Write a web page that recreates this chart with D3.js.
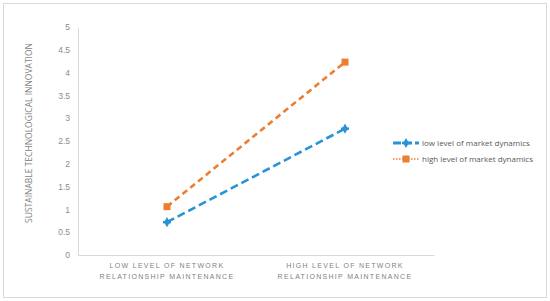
<!DOCTYPE html>
<html>
<head>
<meta charset="utf-8">
<script src="https://cdn.jsdelivr.net/npm/d3@7"></script>
<style>
  body { margin: 0; background: #fff; }
  svg { display: block; font-family: "Open Sans", "Noto Sans", sans-serif; }
</style>
</head>
<body>
<div id="chart"></div>
<script>
const categories = ['LOW LEVEL OF NETWORK|RELATIONSHIP MAINTENANCE', 'HIGH LEVEL OF NETWORK|RELATIONSHIP MAINTENANCE'];
const lowDynamics = [0.72, 2.77];
const highDynamics = [1.06, 4.23];
const yTicks = [0, 0.5, 1, 1.5, 2, 2.5, 3, 3.5, 4, 4.5, 5];
const seriesNames = ['low level of market dynamics', 'high level of market dynamics'];

const width = 550;
const height = 301;
const margin = { top: 27, right: 116, bottom: 46, left: 78 };

const svg = d3.select('#chart').append('svg')
    .attr('width', width)
    .attr('height', height);

// outer frame
svg.append('rect')
    .attr('x', 3.5).attr('y', 3.5)
    .attr('width', width - 7).attr('height', height - 7)
    .attr('fill', '#fff').attr('stroke', '#d9d9d9');

const xScale = d3.scaleBand()
    .domain(categories)
    .range([margin.left, width - margin.right]);

const yScale = d3.scaleLinear()
    .domain([0, 5])
    .range([height - margin.bottom, margin.top]);

// y axis
const yAxis = svg.append('g')
    .attr('transform', `translate(${margin.left},0)`)
    .call(d3.axisLeft(yScale).tickValues(yTicks).tickSize(0).tickPadding(8).tickFormat(d3.format('')));
yAxis.select('.domain').attr('stroke', '#d9d9d9');
yAxis.selectAll('text').attr('fill', '#8c8c8c').style('font-size', '8.5px');

// x axis
const xAxis = svg.append('g')
    .attr('transform', `translate(0,${height - margin.bottom})`)
    .call(d3.axisBottom(xScale).tickSize(0).tickFormat(''));
xAxis.select('.domain').attr('stroke', '#d9d9d9');

xAxis.selectAll('.tick').each(function (d) {
    const parts = d.split('|');
    const t = d3.select(this).append('text')
        .attr('fill', '#7f7f7f')
        .attr('text-anchor', 'middle')
        .style('font-size', '7px')
        .style('letter-spacing', '1.3px');
    parts.forEach((p, i) => {
        t.append('tspan').attr('x', 0).attr('y', 13 + i * 11).text(p);
    });
});

// y axis title
svg.append('text')
    .attr('transform', 'translate(32,133) rotate(-90)')
    .attr('text-anchor', 'middle')
    .attr('fill', '#7f7f7f')
    .style('font-size', '8.5px')
    .text('SUSTAINABLE TECHNOLOGICAL  INNOVATION');

const series = [
    { name: seriesNames[0], values: lowDynamics, color: '#2a93d5', dash: '8,4', marker: 'arrow' },
    { name: seriesNames[1], values: highDynamics, color: '#ed7d31', dash: '6,4', marker: 'square' }
];

const line = d3.line()
    .x((d, i) => xScale(categories[i]) + xScale.bandwidth() / 2)
    .y((d) => yScale(d));

function drawMarker(g, type, color) {
    if (type === 'square') {
        g.append('rect').attr('x', -3.5).attr('y', -3.5).attr('width', 7).attr('height', 7).attr('fill', color);
    } else {
        g.append('path').attr('d', d3.symbol(d3.symbolDiamond, 30)()).attr('fill', color);
        g.append('line').attr('x1', -4).attr('x2', 4).attr('stroke', color).attr('stroke-width', 2.5);
    }
}

series.forEach((s) => {
    svg.append('path')
        .datum(s.values)
        .attr('d', line)
        .attr('fill', 'none')
        .attr('stroke', s.color)
        .attr('stroke-width', 2.6)
        .attr('stroke-dasharray', s.dash);
    s.values.forEach((v, i) => {
        const g = svg.append('g')
            .attr('transform', `translate(${xScale(categories[i]) + xScale.bandwidth() / 2},${yScale(v)})`);
        drawMarker(g, s.marker, s.color);
    });
});

// legend
const legend = svg.append('g').attr('transform', 'translate(393,143)');
series.forEach((s, i) => {
    const g = legend.append('g').attr('transform', `translate(0,${i * 16})`);
    g.append('line')
        .attr('x1', 0).attr('x2', 26)
        .attr('stroke', s.color)
        .attr('stroke-width', i === 0 ? 2.8 : 1.5)
        .attr('stroke-dasharray', i === 0 ? '8,3' : '1.5,1.5');
    const m = g.append('g').attr('transform', 'translate(13,0)');
    drawMarker(m, s.marker, s.color);
    g.append('text')
        .attr('x', 29).attr('y', 3)
        .attr('fill', '#595959')
        .style('font-size', '8px')
        .text(s.name);
});
</script>
</body>
</html>
